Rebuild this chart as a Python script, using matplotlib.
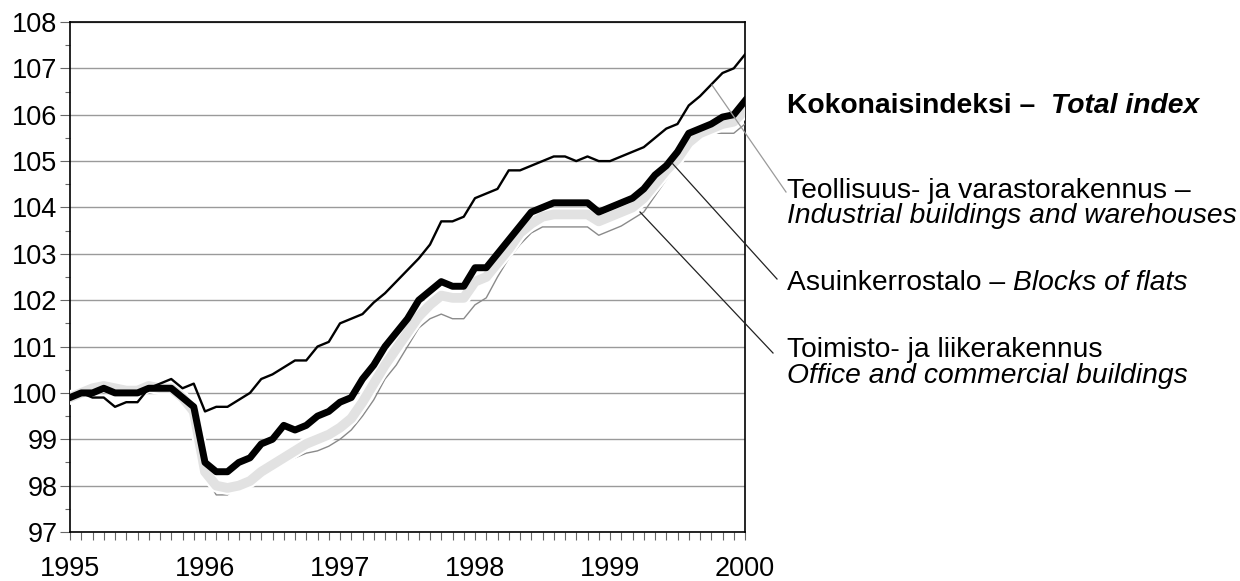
import matplotlib

matplotlib.use("Agg")
import matplotlib.pyplot as plt
import matplotlib.patheffects as pe
import numpy as np
from matplotlib.ticker import MultipleLocator

plt.rcParams["font.family"] = ["Liberation Sans", "DejaVu Sans"]

# monthly index, Jan 1995 .. Jan 2000 (1995 = 100)
total = [99.9, 100.0, 100.0, 100.1, 100.0, 100.0, 100.0, 100.1, 100.1, 100.1,
         99.9, 99.7, 98.5, 98.3, 98.3, 98.5, 98.6, 98.9, 99.0, 99.3,
         99.2, 99.3, 99.5, 99.6, 99.8, 99.9, 100.3, 100.6, 101.0, 101.3,
         101.6, 102.0, 102.2, 102.4, 102.3, 102.3, 102.7, 102.7, 103.0, 103.3,
         103.6, 103.9, 104.0, 104.1, 104.1, 104.1, 104.1, 103.9, 104.0, 104.1,
         104.2, 104.4, 104.7, 104.9, 105.2, 105.6, 105.7, 105.8, 105.95, 106.0,
         106.3]
industrial = [99.9, 100.0, 99.9, 99.9, 99.7, 99.8, 99.8, 100.1, 100.2, 100.3,
              100.1, 100.2, 99.6, 99.7, 99.7, 99.85, 100.0, 100.3, 100.4, 100.55,
              100.7, 100.7, 101.0, 101.1, 101.5, 101.6, 101.7, 101.95, 102.15, 102.4,
              102.65, 102.9, 103.2, 103.7, 103.7, 103.8, 104.2, 104.3, 104.4, 104.8,
              104.8, 104.9, 105.0, 105.1, 105.1, 105.0, 105.1, 105.0, 105.0, 105.1,
              105.2, 105.3, 105.5, 105.7, 105.8, 106.2, 106.4, 106.65, 106.9, 107.0,
              107.3]
flats = [99.9, 100.0, 100.1, 100.15, 100.1, 100.05, 100.05, 100.15, 100.1, 100.1,
         99.9, 99.6, 98.3, 98.0, 97.95, 98.0, 98.1, 98.3, 98.45, 98.6,
         98.75, 98.9, 99.0, 99.1, 99.25, 99.45, 99.8, 100.2, 100.6, 100.95,
         101.3, 101.65, 101.9, 102.1, 102.05, 102.05, 102.4, 102.5, 102.8, 103.1,
         103.45, 103.65, 103.8, 103.85, 103.85, 103.85, 103.85, 103.7, 103.8, 103.9,
         104.0, 104.2, 104.5, 104.8, 105.05, 105.4, 105.6, 105.7, 105.8, 105.85,
         106.1]
office = [99.9, 100.0, 100.0, 100.05, 100.0, 100.0, 100.0, 100.1, 100.1, 100.05,
          99.85, 99.5, 98.2, 97.8, 97.8, 98.0, 98.15, 98.3, 98.4, 98.5,
          98.6, 98.7, 98.75, 98.85, 99.0, 99.2, 99.5, 99.85, 100.3, 100.6,
          101.0, 101.4, 101.6, 101.7, 101.6, 101.6, 101.9, 102.05, 102.5, 102.9,
          103.2, 103.45, 103.58, 103.58, 103.58, 103.58, 103.58, 103.4, 103.5, 103.6,
          103.75, 103.9, 104.25, 104.6, 104.95, 105.3, 105.5, 105.6, 105.6, 105.6,
          105.8]
years = [1995, 1996, 1997, 1998, 1999, 2000]

x = 1995 + np.arange(len(total)) / 12

W, H = 1240, 581
fig = plt.figure(figsize=(W / 100, H / 100), dpi=100)
ax = fig.add_axes([70 / W, 1 - 532 / H, 675 / W, 510 / H])

ax.plot(x, office, color="#8a8a8a", lw=1.0, zorder=3)
ax.plot(x, flats, color="#e2e2e2", lw=7, zorder=4, solid_joinstyle="round",
        path_effects=[pe.Stroke(linewidth=10, foreground="white"), pe.Normal()])
ax.plot(x, industrial, color="black", lw=1.7, zorder=5)
ax.plot(x, total, color="black", lw=5, zorder=6, solid_joinstyle="round")

ax.set_xlim(1995, 2000)
ax.set_ylim(97, 108)
ax.set_xticks(years)
ax.xaxis.set_minor_locator(MultipleLocator(1 / 12))
ax.yaxis.set_major_locator(MultipleLocator(1))
ax.yaxis.set_minor_locator(MultipleLocator(0.5))
ax.grid(axis="y", which="major", color="#9a9a9a", lw=1.0, zorder=0)
ax.tick_params(axis="x", which="both", direction="out", length=6, width=0.8,
               color="#666666", labelsize=19.5, pad=11)
ax.tick_params(axis="y", which="major", direction="out", length=7, width=0.8,
               color="#666666", labelsize=19.5, pad=2)
ax.tick_params(axis="y", which="minor", direction="out", length=3.5, width=0.8,
               color="#666666")
for s in ax.spines.values():
    s.set_linewidth(1.2)


# labels on the right, pieces chained so the italic part follows the plain one
def label_line(y_px, parts, size=20.3):
    last = None
    for txt, weight, style in parts:
        kw = dict(fontsize=size, fontweight=weight, fontstyle=style)
        if last is None:
            last = fig.text(787 / W, 1 - y_px / H, txt, va="baseline", **kw)
        else:
            last = ax.annotate(txt, xy=(1, 0), xycoords=last, va="bottom",
                               ha="left", annotation_clip=False, **kw)


label_line(113, [("Kokonaisindeksi \u2013  ", "bold", "normal"),
                 ("Total index", "bold", "italic")])
label_line(198, [("Teollisuus- ja varastorakennus \u2013", "normal", "normal")])
label_line(223, [("Industrial buildings and warehouses", "normal", "italic")])
label_line(290, [("Asuinkerrostalo \u2013 ", "normal", "normal"),
                 ("Blocks of flats", "normal", "italic")])
label_line(357, [("Toimisto- ja liikerakennus", "normal", "normal")])
label_line(383, [("Office and commercial buildings", "normal", "italic")])


# leader lines (figure pixel coordinates)
def leader(p0, p1, color, lw):
    fig.add_artist(plt.Line2D([p0[0] / W, p1[0] / W], [1 - p0[1] / H, 1 - p1[1] / H],
                              color=color, lw=lw, transform=fig.transFigure))


leader((712, 85), (786, 192), "#9a9a9a", 0.9)
leader((672, 163), (777, 279), "#222222", 0.9)
leader((640, 212), (773, 353), "#222222", 0.9)

fig.savefig("out.png", dpi=100)
